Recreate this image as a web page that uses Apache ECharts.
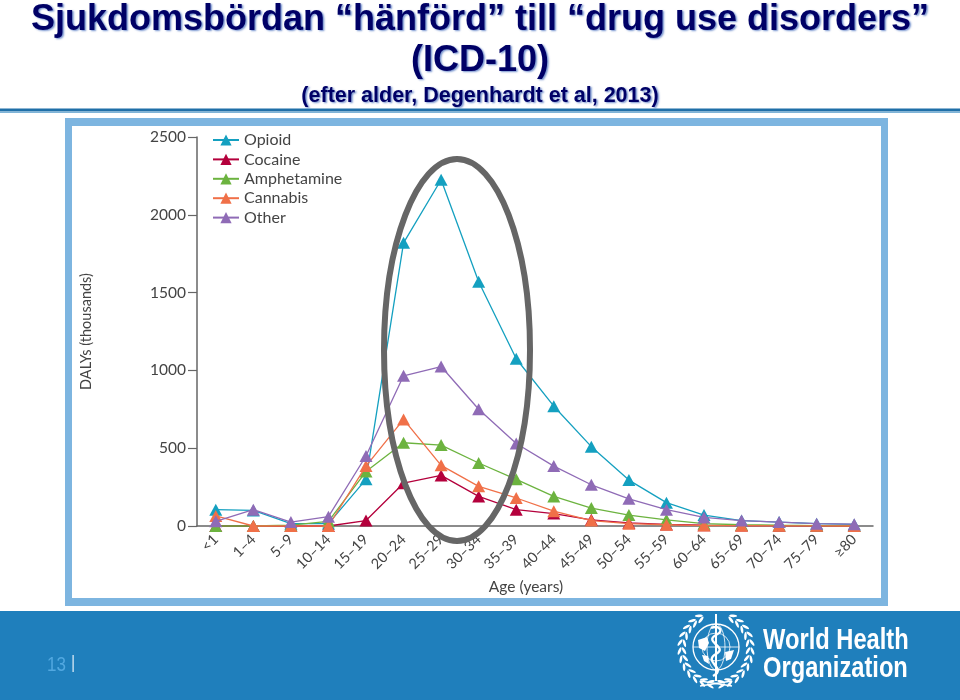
<!DOCTYPE html>
<html><head><meta charset="utf-8">
<style>html,body{margin:0;padding:0;background:#fff}#c{width:960px;height:700px}</style>
<script src="https://cdn.jsdelivr.net/npm/echarts@6/dist/echarts.min.js"></script>
</head><body><div id="c"></div>
<script>
const ages = ['<1','1–4','5–9','10–14','15–19','20–24','25–29','30–34','35–39','40–44','45–49','50–54','55–59','60–64','65–69','70–74','75–79','≥80'];
const opioid = [105,100,15,15,300,1820,2225,1570,1075,770,510,295,150,70,35,25,15,10];
const cocaine = [0,0,0,0,35,275,325,190,105,80,40,20,10,5,3,2,1,1];
const amphetamine = [0,0,5,30,350,535,520,405,300,190,115,70,40,15,8,5,3,2];
const cannabis = [65,0,0,0,385,685,390,255,180,95,35,15,8,3,2,1,1,0];
const other = [30,105,25,60,450,965,1025,750,530,385,265,175,105,55,35,25,15,12];
const yTicks = [0,500,1000,1500,2000,2500];

const names = ['Opioid','Cocaine','Amphetamine','Cannabis','Other'];
const values = [opioid,cocaine,amphetamine,cannabis,other];
const colors = ['#14a0c0','#b4003c','#6cb33f','#f07048','#8f6bb6'];
const chartFont = 'Lato';
const navy = '#000066';
const white = '#ffffff';

function whoLogo(){
  const cx=716, cy=647, els=[];
  const line=(x1,y1,x2,y2,w)=>els.push({type:'line',z:50,shape:{x1,y1,x2,y2},style:{stroke:white,lineWidth:w}});
  const curve=(x1,y1,cpx1,cpy1,cpx2,cpy2,x2,y2)=>els.push({type:'bezierCurve',z:50,shape:{x1,y1,cpx1,cpy1,cpx2,cpy2,x2,y2},style:{fill:'none',stroke:white,lineWidth:2.4}});
  const blob=(pts)=>els.push({type:'polygon',z:50,shape:{points:pts},style:{fill:white}});
  els.push({type:'circle',z:50,shape:{cx,cy,r:23},style:{fill:'none',stroke:white,lineWidth:1.3}});
  els.push({type:'circle',z:50,shape:{cx,cy,r:14},style:{fill:'none',stroke:white,lineWidth:.8}});
  els.push({type:'ellipse',z:50,shape:{cx,cy,rx:9,ry:23},style:{fill:'none',stroke:white,lineWidth:.8}});
  line(cx-23,cy,cx+23,cy,.8);
  line(cx,614,cx,681,2);
  curve(cx-3,676,cx+12,668,cx-14,662,cx,654);
  curve(cx,654,cx+13,647,cx-13,642,cx,635);
  curve(cx,635,cx+9,631,cx+3,625,cx-5,628);
  blob([[cx-18,640],[cx-9,637],[cx-7,643],[cx-11,651],[cx-17,648]]);
  blob([[cx+9,652],[cx+18,650],[cx+15,659],[cx+10,661]]);
  blob([[cx-14,655],[cx-8,656],[cx-7,664],[cx-12,661]]);
  for(const side of [-1,1]){
    for(let i=0;i<12;i++){
      const a=(-62+i*13)*Math.PI/180;
      for(const [r,tilt] of [[32,.45],[36.5,-.45]]){
        const x=cx+side*r*Math.cos(a), y=cy+2+(r+1)*Math.sin(a);
        els.push({type:'ellipse',z:50,x,y,rotation:-side*(a+tilt),shape:{cx:0,cy:0,rx:1.3,ry:4},style:{fill:white}});
      }
    }
  }
  line(cx-16,686,cx+16,681,1.4);
  line(cx+16,686,cx-16,681,1.4);
  return els;
}

const chart = echarts.init(document.getElementById('c'),null,{renderer:'canvas'});
const titleShadow = {textShadowColor:'rgba(70,110,190,.75)',textShadowBlur:2,textShadowOffsetX:1.5,textShadowOffsetY:1.5};
chart.setOption({
  animation:false,
  backgroundColor:'#fff',
  title:[
    {text:'Sjukdomsbördan “hänförd” till “drug use disorders”',left:480,textAlign:'center',top:2,padding:0,textStyle:{fontFamily:'Liberation Sans',fontWeight:'bold',fontSize:36,color:navy,...titleShadow}},
    {text:'(ICD-10)',left:480,textAlign:'center',top:43,padding:0,textStyle:{fontFamily:'Liberation Sans',fontWeight:'bold',fontSize:36,color:navy,...titleShadow}},
    {text:'(efter alder, Degenhardt et al, 2013)',left:480,textAlign:'center',top:85,padding:0,textStyle:{fontFamily:'Liberation Sans',fontWeight:'bold',fontSize:21.5,color:navy,...titleShadow}}
  ],
  legend:{
    orient:'vertical',left:207,top:127,itemWidth:26,itemHeight:14,itemGap:3.4,
    textStyle:{fontFamily:chartFont,fontSize:16,color:'#444',lineHeight:14},
    data:names
  },
  grid:{left:197,right:87,top:137,bottom:174,containLabel:false},
  xAxis:{
    type:'category',data:ages,boundaryGap:true,
    name:'Age (years)',nameLocation:'middle',nameGap:50,
    nameTextStyle:{fontFamily:chartFont,fontSize:15.5,color:'#444',padding:[0,18,0,0]},
    axisLine:{lineStyle:{color:'#666',width:1.5}},
    axisTick:{length:7,alignWithLabel:false,lineStyle:{color:'#666',width:1.2}},
    axisLabel:{rotate:45,interval:0,fontFamily:chartFont,fontSize:14.5,color:'#444',margin:11}
  },
  yAxis:{
    type:'value',min:yTicks[0],max:yTicks[yTicks.length-1],interval:yTicks[1]-yTicks[0],
    name:'DALYs (thousands)',nameLocation:'middle',nameGap:103,nameRotate:90,
    nameTextStyle:{fontFamily:chartFont,fontSize:14.5,color:'#444'},
    axisLine:{show:true,lineStyle:{color:'#666',width:1.5}},
    axisTick:{show:true,length:9,lineStyle:{color:'#666',width:1.2}},
    axisLabel:{fontFamily:chartFont,fontSize:15.5,color:'#444',margin:11,formatter:v=>String(v)},
    splitLine:{show:false}
  },
  series:names.map((n,i)=>({
    name:n,type:'line',data:values[i],z:5+i,
    symbol:'triangle',symbolSize:[13,12],showSymbol:true,clip:false,
    lineStyle:{color:colors[i],width:1.3},
    itemStyle:{color:colors[i]}
  })),
  graphic:{elements:[
    {type:'rect',z:-10,shape:{x:0,y:108.5,width:960,height:3},style:{fill:'#1f6fa8'}},
    {type:'rect',z:-10,shape:{x:0,y:111.5,width:960,height:1.5},style:{fill:'#7fb4d8'}},
    {type:'rect',z:-10,shape:{x:65,y:118,width:823,height:488},style:{fill:'#7db5e0'}},
    {type:'rect',z:-9,shape:{x:72,y:126,width:809,height:472},style:{fill:'#fff'}},
    {type:'ellipse',z:40,shape:{cx:457,cy:350,rx:73,ry:191},style:{fill:'none',stroke:'#666',lineWidth:6}},
    {type:'rect',z:45,shape:{x:0,y:611,width:960,height:89},style:{fill:'#1f7fbc'}},
    {type:'text',z:50,x:47,y:655,scaleX:.85,style:{text:'13',fontFamily:'Liberation Sans',fontSize:20,fill:'#52a8e0'}},
    {type:'rect',z:50,shape:{x:72.5,y:655,width:1.2,height:17},style:{fill:'#e8f2fa'}},
    {type:'text',z:50,x:763,y:626,scaleX:.79,style:{text:'World Health',fontFamily:'Liberation Sans',fontWeight:'bold',fontSize:30,fill:white}},
    {type:'text',z:50,x:763,y:654,scaleX:.79,style:{text:'Organization',fontFamily:'Liberation Sans',fontWeight:'bold',fontSize:30,fill:white}},
    ...whoLogo()
  ]}
});
</script></body></html>
